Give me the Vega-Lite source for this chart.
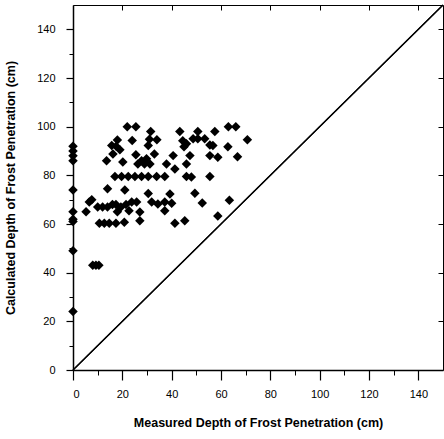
{
  "$schema": "https://vega.github.io/schema/vega-lite/v6.json",
  "width": 370,
  "height": 365,
  "autosize": {"type": "none"},
  "padding": {"left": 73, "top": 5, "right": 1, "bottom": 69},
  "background": "white",
  "config": {
    "view": {"stroke": "black", "strokeWidth": 1},
    "font": "Liberation Sans",
    "axis": {
      "grid": false,
      "domainColor": "black",
      "tickColor": "black",
      "labelColor": "black",
      "titleColor": "black",
      "labelFont": "Liberation Sans",
      "titleFont": "Liberation Sans",
      "labelFontSize": 11,
      "titleFontSize": 12.5,
      "titleFontWeight": "bold"
    }
  },
  "datasets": {
    "pts": [
      {"measured": 0, "calculated": 92}, {"measured": 0, "calculated": 90}, {"measured": 0, "calculated": 88}, {"measured": 0, "calculated": 86},
      {"measured": 0, "calculated": 74}, {"measured": 0, "calculated": 65}, {"measured": 0, "calculated": 62}, {"measured": 0, "calculated": 61},
      {"measured": 0, "calculated": 49}, {"measured": 0, "calculated": 24},
      {"measured": 22, "calculated": 100}, {"measured": 25.5, "calculated": 100}, {"measured": 63, "calculated": 100}, {"measured": 66, "calculated": 100},
      {"measured": 31.5, "calculated": 98}, {"measured": 43.3, "calculated": 98}, {"measured": 50.6, "calculated": 98}, {"measured": 57.5, "calculated": 98},
      {"measured": 18, "calculated": 94.5}, {"measured": 24, "calculated": 94.3}, {"measured": 31, "calculated": 94.8}, {"measured": 34, "calculated": 94.6},
      {"measured": 44.5, "calculated": 94.2}, {"measured": 48.7, "calculated": 95}, {"measured": 50.6, "calculated": 95}, {"measured": 53.4, "calculated": 95},
      {"measured": 70.7, "calculated": 94.6}, {"measured": 46, "calculated": 93},
      {"measured": 15.7, "calculated": 92.3}, {"measured": 17.5, "calculated": 92}, {"measured": 30.5, "calculated": 92.3}, {"measured": 45, "calculated": 91.7},
      {"measured": 55.5, "calculated": 92.5}, {"measured": 56.7, "calculated": 92.3}, {"measured": 62.8, "calculated": 91.7}, {"measured": 19, "calculated": 90.5},
      {"measured": 16.2, "calculated": 88.8}, {"measured": 25.5, "calculated": 88.5}, {"measured": 33, "calculated": 88.8}, {"measured": 40.6, "calculated": 88.1},
      {"measured": 47.4, "calculated": 88.1}, {"measured": 55.5, "calculated": 88.1}, {"measured": 58.7, "calculated": 87.4}, {"measured": 66.7, "calculated": 87.6},
      {"measured": 13.6, "calculated": 86}, {"measured": 20.2, "calculated": 85.5}, {"measured": 27.8, "calculated": 86}, {"measured": 29.8, "calculated": 86.8},
      {"measured": 26.3, "calculated": 84.7}, {"measured": 29, "calculated": 84.7}, {"measured": 31.2, "calculated": 84.7}, {"measured": 37.9, "calculated": 84.7},
      {"measured": 46, "calculated": 84.7}, {"measured": 41.3, "calculated": 82.6},
      {"measured": 17, "calculated": 79.5}, {"measured": 19.7, "calculated": 79.5}, {"measured": 22.4, "calculated": 79.5}, {"measured": 25.1, "calculated": 79.5},
      {"measured": 27.8, "calculated": 79.5}, {"measured": 30.5, "calculated": 79.5}, {"measured": 33.9, "calculated": 79.5}, {"measured": 37.2, "calculated": 79.5},
      {"measured": 46, "calculated": 79.5}, {"measured": 48, "calculated": 79.3}, {"measured": 55.5, "calculated": 79.5},
      {"measured": 14, "calculated": 74.5}, {"measured": 21, "calculated": 74}, {"measured": 30.5, "calculated": 72.5}, {"measured": 39.3, "calculated": 72.3},
      {"measured": 49.4, "calculated": 72.6},
      {"measured": 6.6, "calculated": 69}, {"measured": 7.6, "calculated": 70}, {"measured": 23.8, "calculated": 69}, {"measured": 25.8, "calculated": 69},
      {"measured": 31.9, "calculated": 69}, {"measured": 34.4, "calculated": 68.2}, {"measured": 37.2, "calculated": 69}, {"measured": 40, "calculated": 68.5},
      {"measured": 52.4, "calculated": 68.6}, {"measured": 63.4, "calculated": 69.8},
      {"measured": 10, "calculated": 67}, {"measured": 12, "calculated": 67}, {"measured": 14, "calculated": 67}, {"measured": 16, "calculated": 68},
      {"measured": 17.4, "calculated": 68}, {"measured": 19.4, "calculated": 67}, {"measured": 21.5, "calculated": 68}, {"measured": 5.3, "calculated": 65},
      {"measured": 18, "calculated": 65}, {"measured": 22.7, "calculated": 65.4}, {"measured": 27.1, "calculated": 64.9}, {"measured": 37.2, "calculated": 65.4},
      {"measured": 10.7, "calculated": 60.3}, {"measured": 12.7, "calculated": 60.3}, {"measured": 14.7, "calculated": 60.3}, {"measured": 17.4, "calculated": 60.3},
      {"measured": 20.8, "calculated": 60.7}, {"measured": 27.1, "calculated": 61.3}, {"measured": 41.3, "calculated": 60.3}, {"measured": 45.3, "calculated": 61.3},
      {"measured": 58.7, "calculated": 63.3},
      {"measured": 8, "calculated": 43}, {"measured": 9.3, "calculated": 43}, {"measured": 10.5, "calculated": 43}
    ],
    "diag": [
      {"measured": 0, "calculated": 0},
      {"measured": 150, "calculated": 150}
    ]
  },
  "resolve": {"axis": {"x": "independent", "y": "independent"}},
  "layer": [
    {
      "data": {"name": "diag"},
      "mark": {"type": "line", "color": "black", "strokeWidth": 1.2},
      "encoding": {
        "x": {"field": "measured", "type": "quantitative",
              "scale": {"domain": [0, 150], "nice": false, "zero": false},
              "axis": {"orient": "bottom", "values": [10, 30, 50, 70, 90, 110, 130], "tickSize": 5, "labels": false, "domain": false, "title": null}},
        "y": {"field": "calculated", "type": "quantitative",
              "scale": {"domain": [0, 150], "nice": false, "zero": false},
              "axis": {"orient": "left", "values": [10, 30, 50, 70, 90, 110, 130], "tickSize": 4, "labels": false, "domain": false, "title": null}}
      }
    },
    {
      "data": {"name": "diag"},
      "mark": {"type": "line", "color": "black", "strokeWidth": 1.2},
      "encoding": {
        "x": {"field": "measured", "type": "quantitative",
              "axis": {"orient": "top", "values": [20, 40, 60, 80, 100, 120, 140], "tickSize": -5, "labels": false, "domain": false, "title": null}},
        "y": {"field": "calculated", "type": "quantitative",
              "axis": {"orient": "right", "values": [20, 40, 60, 80, 100, 120, 140], "tickSize": -5, "labels": false, "domain": false, "title": null}}
      }
    },
    {
      "data": {"name": "pts"},
      "mark": {"type": "point", "shape": "diamond", "filled": true, "color": "black", "opacity": 1, "size": 90},
      "encoding": {
        "x": {"field": "measured", "type": "quantitative",
              "axis": {"orient": "bottom", "values": [0, 20, 40, 60, 80, 100, 120, 140], "tickSize": 10, "tickWidth": 1.2,
                       "labelPadding": 8, "domainWidth": 1.5, "title": "Measured Depth of Frost Penetration  (cm)", "titlePadding": 17}},
        "y": {"field": "calculated", "type": "quantitative",
              "axis": {"orient": "left", "values": [0, 20, 40, 60, 80, 100, 120, 140], "tickSize": 7, "tickWidth": 1.2,
                       "labelPadding": 11, "domainWidth": 1.5, "title": "Calculated Depth of Frost Penetration (cm)", "titlePadding": 19}}
      }
    }
  ]
}
